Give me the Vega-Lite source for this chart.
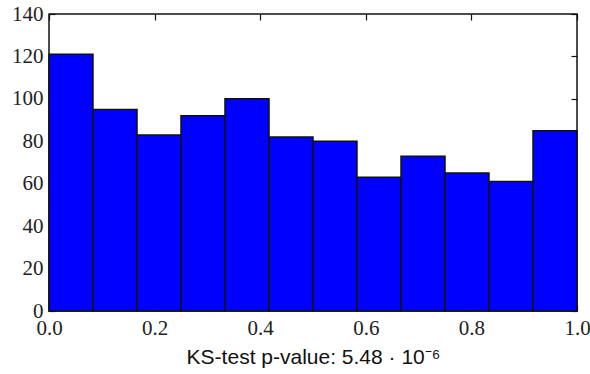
{
  "$schema": "https://vega.github.io/schema/vega-lite/v6.json",
  "width": 528,
  "height": 297,
  "autosize": {"type": "none"},
  "padding": {"left": 49, "top": 14, "right": 13, "bottom": 63},
  "background": "white",
  "config": {
    "view": {"stroke": "#111", "strokeWidth": 1.5},
    "axis": {
      "domain": false,
      "grid": false,
      "tickColor": "#111",
      "tickWidth": 1.2,
      "tickSize": -6,
      "labelPadding": 12,
      "labelFont": "Liberation Serif, Times New Roman, serif",
      "labelFontSize": 21,
      "labelColor": "#222",
      "labelFlush": false,
      "labelOverlap": false,
      "zindex": 1
    }
  },
  "data": {
    "values": [
      {"bin_start": 0.0, "bin_end": 0.0833, "count": 121},
      {"bin_start": 0.0833, "bin_end": 0.1667, "count": 95},
      {"bin_start": 0.1667, "bin_end": 0.25, "count": 83},
      {"bin_start": 0.25, "bin_end": 0.3333, "count": 92},
      {"bin_start": 0.3333, "bin_end": 0.4167, "count": 100},
      {"bin_start": 0.4167, "bin_end": 0.5, "count": 82},
      {"bin_start": 0.5, "bin_end": 0.5833, "count": 80},
      {"bin_start": 0.5833, "bin_end": 0.6667, "count": 63},
      {"bin_start": 0.6667, "bin_end": 0.75, "count": 73},
      {"bin_start": 0.75, "bin_end": 0.8333, "count": 65},
      {"bin_start": 0.8333, "bin_end": 0.9167, "count": 61},
      {"bin_start": 0.9167, "bin_end": 1.0, "count": 85}
    ]
  },
  "layer": [
    {
      "mark": {"type": "bar", "fill": "#0000ff", "stroke": "#111", "strokeWidth": 1.5},
      "encoding": {
        "x": {
          "field": "bin_start",
          "type": "quantitative",
          "scale": {"domain": [0, 1], "nice": false},
          "axis": {
            "orient": "bottom",
            "values": [0, 0.2, 0.4, 0.6, 0.8, 1.0],
            "format": ".1f",
            "labelFont": "Liberation Serif, Times New Roman, serif",
            "title": "KS-test p-value: 5.48 · 10⁻⁶",
            "titleFont": "Liberation Sans, Arial, sans-serif",
            "titleFontSize": 21,
            "titleFontWeight": "normal",
            "titleColor": "#111",
            "titlePadding": 8
          }
        },
        "x2": {"field": "bin_end"},
        "y": {
          "field": "count",
          "type": "quantitative",
          "scale": {"domain": [0, 140], "nice": false},
          "axis": {
            "orient": "left",
            "values": [0, 20, 40, 60, 80, 100, 120, 140],
            "labelFont": "Liberation Serif, Times New Roman, serif",
            "title": null
          }
        },
        "y2": {"datum": 0}
      }
    },
    {
      "mark": {"type": "bar", "opacity": 0},
      "encoding": {
        "x": {
          "field": "bin_start",
          "type": "quantitative",
          "axis": {"orient": "top", "values": [0, 0.2, 0.4, 0.6, 0.8, 1.0], "labels": false, "title": null}
        },
        "x2": {"field": "bin_end"},
        "y": {
          "field": "count",
          "type": "quantitative",
          "axis": {"orient": "right", "values": [0, 20, 40, 60, 80, 100, 120, 140], "labels": false, "title": null}
        },
        "y2": {"datum": 0}
      }
    }
  ],
  "resolve": {"axis": {"x": "independent", "y": "independent"}}
}
